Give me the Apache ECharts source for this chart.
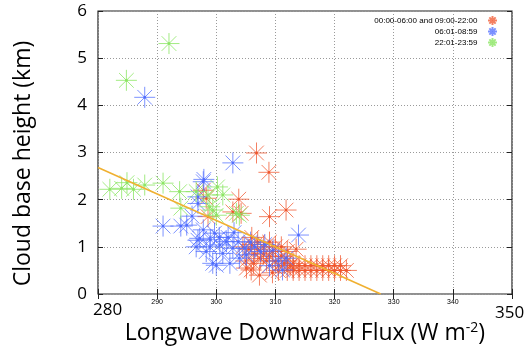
<!DOCTYPE html>
<html><head><meta charset="utf-8">
<script src="https://cdn.jsdelivr.net/npm/echarts@6/dist/echarts.min.js"></script>
<style>html,body{margin:0;padding:0;background:#fff}#c{width:525px;height:350px}</style>
</head><body><div id="c"></div>
<script>
const seriesNames = ['00:00-06:00 and 09:00-22:00', '06:01-08:59', '22:01-23:59'];
const redPoints = [
 [306.8,2.99],[308.9,2.58],[303.8,2.01],[304.2,1.71],[302.8,1.74],[309.0,1.64],[311.8,1.78],
 [297.8,2.2],[298.3,2.03],[298.6,1.64],[305.9,0.51],[307.3,0.4],[305.1,0.55],
 [304.5,1.0],[305.5,0.95],[306.0,1.05],[306.5,0.85],[307.0,0.95],[307.5,0.75],[308.0,0.85],
 [308.5,0.7],[309.0,0.8],[309.5,0.9],[310.0,0.7],[310.5,0.6],[311.0,0.8],[311.5,0.65],
 [312.0,0.7],[312.5,0.6],[313.0,0.55],[313.0,0.65],
 [314,0.5],[314,0.6],[315,0.5],[315,0.6],[316,0.5],[316,0.6],[317,0.5],[317,0.6],
 [318,0.5],[318,0.6],[319,0.5],[319,0.6],[320,0.5],[320,0.6],[321,0.5],[321,0.6],[322,0.5],
 [306,1.2],[307,1.1],[308,1.0],[309,1.1],[310,1.0],[311,1.0],[312,0.9],[313.5,0.95],
 [305,0.7],[306.3,0.65],[309.5,0.45],[310.5,0.5],[312,0.5],[313,0.5]
];
const bluePoints = [
 [287.9,4.17],[302.8,2.78],[291.0,1.44],[294.0,1.44],[295.9,1.65],[297.8,2.38],[296.9,2.06],
 [297.9,2.43],[296.9,1.92],[295.0,1.46],[297.2,1.18],[296.6,1.0],[298.3,0.9],[299.4,0.65],
 [300.6,1.04],[302.8,0.97],[296.9,1.14],[299.7,1.29],[298.9,1.0],[300.0,0.61],[301.7,1.11],
 [301.1,0.86],[303.7,1.11],[304.8,0.97],[305.1,0.83],[303.9,0.76],[302.3,0.65],[297.8,1.36],
 [313.9,1.25],[309.6,0.93],[311.2,0.51],[311.8,0.76],[306.5,1.0],[307.5,0.9],[308.2,1.05],
 [302.0,1.2],[303.0,1.3],[300.5,1.2],[299.0,1.15],[305.8,1.1],[310.5,0.7],[309.0,0.6]
];
const greenPoints = [
 [292.0,5.31],[284.8,4.53],[282.0,2.22],[284.0,2.24],[284.9,2.36],[286.0,2.22],[287.9,2.31],
 [291.0,2.35],[293.8,2.17],[294.0,1.82],[296.6,2.17],[298.6,2.1],[300.2,2.27],[301.1,2.1],
 [298.9,1.85],[299.4,1.78],[300.0,1.67],[303.4,1.71],[303.9,1.67]
];
const fitLine = [[280,2.68],[327.8,0]];
const xTicks = [290,300,310,320,330,340];
const xEndLabels = ['280','350'];

const star = 'path://M0 10H20M10 0V20M3 3L17 17M17 3L3 17M9.2 9.2h1.6v1.6h-1.6z';
function scatter(name, data, col, fill) {
  return {
    name, type: 'scatter', data, symbol: star, symbolSize: 21, symbolKeepAspect: true,
    itemStyle: { color: fill, borderColor: col, borderWidth: 1, opacity: 1 },
    emphasis: { disabled: true }, z: 2
  };
}
const F = 'Open Sans';
const chart = echarts.init(document.getElementById('c'), null, { renderer: 'canvas' });
const gridLine = { show: true, lineStyle: { color: '#9a9a9a', width: 1, type: [1, 2] } };
chart.setOption({
  animation: false,
  grid: { left: 98, right: 13, top: 11, bottom: 56, outerBoundsMode: 'none', containLabel: false,
    show: true, borderColor: '#222', borderWidth: 1.2, backgroundColor: 'transparent' },
  legend: {
    orient: 'vertical', right: 27, top: 15, align: 'right', itemWidth: 20, itemHeight: 9, itemGap: 0,
    padding: 0, textStyle: { fontSize: 8, fontFamily: 'Liberation Sans', color: '#000' },
    data: seriesNames
  },
  xAxis: [{
    type: 'value', min: 280, max: 350, interval: 10, position: 'bottom',
    axisLine: { show: false }, axisTick: { show: true, inside: true, length: 5, lineStyle: { color: '#222' } },
    splitLine: gridLine,
    axisLabel: { fontSize: 7, fontFamily: 'Liberation Sans', color: '#000', margin: 5,
      formatter: v => xTicks.includes(v) ? String(v) : '' },
    name: 'Longwave Downward Flux (W m{sup|-2})', nameLocation: 'middle', nameGap: 27,
    nameTextStyle: { fontSize: 23, fontFamily: F, color: '#000',
      rich: { sup: { fontSize: 14, fontFamily: F, color: '#000', verticalAlign: 'top', padding: [0,0,11,0] } } }
  }, {
    type: 'value', min: 280, max: 350, interval: 10, position: 'top',
    axisLine: { show: false }, axisLabel: { show: false }, splitLine: { show: false },
    axisTick: { show: true, inside: true, length: 5, lineStyle: { color: '#222' } }
  }],
  yAxis: [{
    type: 'value', min: 0, max: 6, interval: 1, position: 'left',
    axisLine: { show: false }, axisTick: { show: true, inside: true, length: 5, lineStyle: { color: '#222' } },
    splitLine: gridLine,
    axisLabel: { fontSize: 17, fontFamily: F, color: '#000', margin: 11 },
    name: 'Cloud base height (km)', nameLocation: 'middle', nameGap: 63,
    nameTextStyle: { fontSize: 23, fontFamily: F, color: '#000', padding: [0,22,0,0] }
  }, {
    type: 'value', min: 0, max: 6, interval: 1, position: 'right',
    axisLine: { show: false }, axisLabel: { show: false }, splitLine: { show: false },
    axisTick: { show: true, inside: true, length: 5, lineStyle: { color: '#222' } }
  }],
  graphic: [
    { type: 'text', left: 93, top: 302, style: { text: xEndLabels[0], fontSize: 17, fontFamily: F, fill: '#000' } },
    { type: 'text', left: 495, top: 305, style: { text: xEndLabels[1], fontSize: 17, fontFamily: F, fill: '#000' } }
  ],
  series: [
    scatter(seriesNames[0], redPoints, 'rgba(240,85,45,0.75)', 'rgba(220,60,30,0.9)'),
    scatter(seriesNames[1], bluePoints, 'rgba(80,110,255,0.75)', 'rgba(50,80,230,0.9)'),
    scatter(seriesNames[2], greenPoints, 'rgba(140,230,100,0.8)', 'rgba(100,200,70,0.9)'),
    { type: 'line', data: fitLine, showSymbol: false, symbol: 'none', clip: true,
      lineStyle: { color: '#f0b030', width: 1.6 }, z: 3, silent: true }
  ]
});
</script></body></html>
